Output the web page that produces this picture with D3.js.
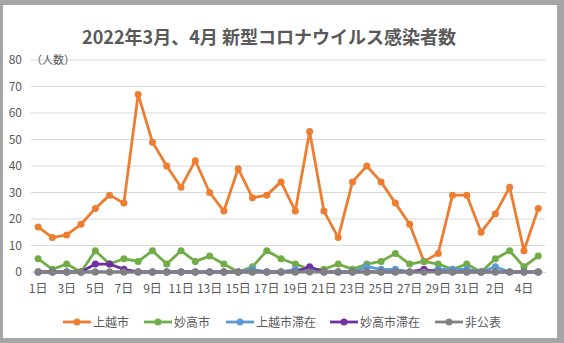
<!DOCTYPE html>
<html><head><meta charset="utf-8">
<script src="https://cdn.jsdelivr.net/npm/d3@7"></script>
<style>
html,body{margin:0;padding:0;background:#a6a6a6;}
svg{display:block;font-family:"Noto Sans CJK JP","Noto Sans",sans-serif;}
</style></head>
<body>
<svg id="c" width="564" height="343"></svg>
<script>
const days = [1,2,3,4,5,6,7,8,9,10,11,12,13,14,15,16,17,18,19,20,21,22,23,24,25,26,27,28,29,30,31,1,2,3,4,5];
const tickLabels = ["1日","3日","5日","7日","9日","11日","13日","15日","17日","19日","21日","23日","25日","27日","29日","31日","2日","4日"];
const seriesNames = ["上越市","妙高市","上越市滞在","妙高市滞在","非公表"];
const joetsu   = [17,13,14,18,24,29,26,67,49,40,32,42,30,23,39,28,29,34,23,53,23,13,34,40,34,26,18,4,7,29,29,15,22,32,8,24];
const myoko    = [5,1,3,0,8,3,5,4,8,3,8,4,6,3,0,2,8,5,3,1,1,3,1,3,4,7,3,4,3,1,3,0,5,8,2,6];
const joetsuStay = [0,0,0,0,0,0,0,0,0,0,0,0,0,0,0,1,0,0,1,1,0,0,0,2,1,1,0,0,1,1,1,0,2,0,0,0];
const myokoStay  = [0,0,0,0,3,3,1,0,0,0,0,0,0,0,0,0,0,0,0,2,0,0,0,0,0,0,0,1,0,0,0,0,0,0,0,0];
const undisclosed = [0,0,0,0,0,0,0,0,0,0,0,0,0,0,0,0,0,0,0,0,0,0,0,0,0,0,0,0,0,0,0,0,0,0,0,0];
const yTicks = [0,10,20,30,40,50,60,70,80];
const colors = ["#ED7D31","#70AD47","#5B9BD5","#7030A0","#808080"];

const data = [joetsu, myoko, joetsuStay, myokoStay, undisclosed];
const idx = d3.range(days.length);

const svg = d3.select("#c");
svg.append("rect").attr("x",3).attr("y",5).attr("width",554).attr("height",333).attr("fill","#fff");

const x = d3.scaleBand().domain(idx).range([31,545.4]);
const y = d3.scaleLinear().domain([0,80]).range([272,60]);
const cx = i => x(i) + x.bandwidth()/2;

// gridlines
svg.append("g").selectAll("line").data(yTicks).join("line")
  .attr("x1",31).attr("x2",545.4)
  .attr("y1",d=>y(d)).attr("y2",d=>y(d))
  .attr("stroke","#d9d9d9").attr("stroke-width",1);

// y axis labels
const yAxis = d3.axisLeft(y).tickValues(yTicks).tickSize(0).tickPadding(0);
const yg = svg.append("g").attr("transform","translate(22,0)").call(yAxis);
yg.select(".domain").remove();
yg.selectAll("text").attr("font-size",12).attr("fill","#595959").attr("font-family","'Noto Sans CJK JP',sans-serif");

svg.append("text").attr("x",31).attr("y",64).attr("font-size",11).attr("fill","#595959").text("（人数）");

// x axis
const labelMap = {};
let k = 0;
idx.forEach(i => { if (i % 2 === 0) labelMap[i] = tickLabels[k++]; });
const xAxis = d3.axisBottom(x).tickValues(idx.filter(i=>i%2===0)).tickFormat(i=>labelMap[i]).tickSize(0).tickPadding(12);
const xg = svg.append("g").attr("transform","translate(0,272)").call(xAxis);
xg.select(".domain").attr("stroke","#d9d9d9");
xg.selectAll("text").attr("font-size",12).attr("fill","#595959").attr("font-family","'Noto Sans CJK JP',sans-serif");

// title
svg.append("text").attr("x",269).attr("y",44).attr("text-anchor","middle")
  .attr("font-size",18).attr("font-weight","bold").attr("fill","#595959").text("2022年3月、4月 新型コロナウイルス感染者数");

// series
const line = d3.line().x((d,i)=>cx(i)).y(d=>y(d));
data.forEach((arr, s) => {
  const g = svg.append("g");
  g.append("path").datum(arr).attr("d",line).attr("fill","none")
    .attr("stroke",colors[s]).attr("stroke-width",2.8).attr("stroke-linejoin","round");
  g.selectAll("circle").data(arr).join("circle")
    .attr("cx",(d,i)=>cx(i)).attr("cy",d=>y(d)).attr("r",3.5).attr("fill",colors[s]);
});

// legend
const legX = [63,144,226,330,435];
const lg = svg.append("g");
seriesNames.forEach((n, s) => {
  const gx = legX[s];
  lg.append("line").attr("x1",gx).attr("x2",gx+28).attr("y1",322).attr("y2",322)
    .attr("stroke",colors[s]).attr("stroke-width",2.8);
  lg.append("circle").attr("cx",gx+14).attr("cy",322).attr("r",3.5).attr("fill",colors[s]);
  lg.append("text").attr("x",gx+30).attr("y",326.5).attr("font-size",12).attr("fill","#595959").text(n);
});
</script>
</body></html>
